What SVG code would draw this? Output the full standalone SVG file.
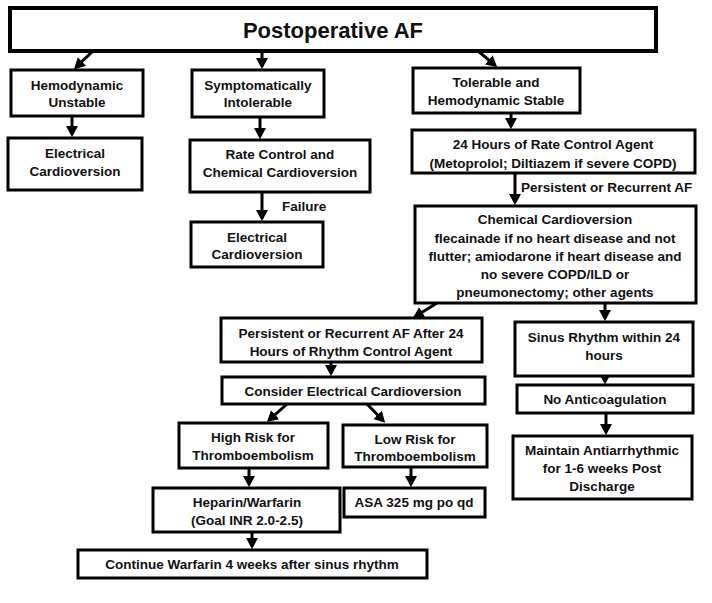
<svg xmlns="http://www.w3.org/2000/svg" width="712" height="603" viewBox="0 0 712 603">
<style>
.box{fill:#fff;stroke:#000;stroke-width:3}
.tb{stroke-width:4}
.t{font-family:"Liberation Sans",Arial,sans-serif;font-weight:bold;font-size:13.5px;fill:#111;text-anchor:middle;dominant-baseline:central}
.title{font-size:22px}
.lbl{text-anchor:start}
.c{fill:none;stroke:#000;stroke-width:3;marker-end:url(#ah)}
</style>
<defs>
<marker id="ah" viewBox="0 0 11 12" markerWidth="11" markerHeight="12" refX="8.2" refY="6" orient="auto" markerUnits="userSpaceOnUse">
<path d="M0,0 L11,6 L0,12 z" fill="#000"/>
</marker>
</defs>
<rect width="712" height="603" fill="#fff"/>
<g id="connectors">
<path class="c" d="M93,51 L76,67.2"/>
<path class="c" d="M262,51 L262,66.3"/>
<path class="c" d="M478,51 L495,65.2"/>
<path class="c" d="M72,116 L72,134.3"/>
<path class="c" d="M260,117 L260,136.3"/>
<path class="c" d="M262,192 L262,218.3"/>
<path class="c" d="M511,113 L511,126.3"/>
<path class="c" d="M515,173 L515,202.3"/>
<path class="c" d="M437,303 L415.3,316.6"/>
<path class="c" d="M605,303 L605,318.3"/>
<path class="c" d="M331,362 L331,373.3"/>
<path class="c" d="M605,376 L605,381.8"/>
<path class="c" d="M287,404 L269,420.2"/>
<path class="c" d="M367,404 L383.2,420.8"/>
<path class="c" d="M606,413 L606,432.3"/>
<path class="c" d="M249,468 L249,484.3"/>
<path class="c" d="M411,467 L411,484.3"/>
<path class="c" d="M252,532 L252,546.3"/>
<text class="t lbl" x="282" y="206">Failure</text>
<text class="t lbl" x="521" y="187">Persistent or Recurrent AF</text>
</g>
<g id="n-title"><rect class="box tb" x="10" y="8" width="646" height="43"/><text class="t title" x="333" y="30">Postoperative AF</text></g>
<g id="n-unstable"><rect class="box" x="11" y="70" width="132" height="46"/><text class="t" x="77" y="85">Hemodynamic</text><text class="t" x="77" y="102">Unstable</text></g>
<g id="n-intolerable"><rect class="box" x="192" y="70" width="132" height="47"/><text class="t" x="258" y="85">Symptomatically</text><text class="t" x="258" y="102">Intolerable</text></g>
<g id="n-tolerable"><rect class="box" x="413" y="68" width="167" height="45"/><text class="t" x="496" y="82">Tolerable and</text><text class="t" x="496" y="100">Hemodynamic Stable</text></g>
<g id="n-ecv1"><rect class="box" x="8" y="138" width="134" height="52"/><text class="t" x="75" y="153">Electrical</text><text class="t" x="75" y="171">Cardioversion</text></g>
<g id="n-ratechem"><rect class="box" x="190" y="140" width="180" height="52"/><text class="t" x="280" y="154">Rate Control and</text><text class="t" x="280" y="172">Chemical Cardioversion</text></g>
<g id="n-ecv2"><rect class="box" x="191" y="222" width="132" height="45"/><text class="t" x="257" y="237">Electrical</text><text class="t" x="257" y="254">Cardioversion</text></g>
<g id="n-rate24"><rect class="box" x="412" y="130" width="283" height="43"/><text class="t" x="553" y="144">24 Hours of Rate Control Agent</text><text class="t" x="553" y="163">(Metoprolol; Diltiazem if severe COPD)</text></g>
<g id="n-chem"><rect class="box" x="415" y="206" width="281" height="97"/><text class="t" x="555" y="219">Chemical Cardioversion</text><text class="t" x="555" y="238">flecainade if no heart disease and not</text><text class="t" x="555" y="256">flutter; amiodarone if heart disease and</text><text class="t" x="555" y="274">no severe COPD/ILD or</text><text class="t" x="555" y="292">pneumonectomy; other agents</text></g>
<g id="n-persist"><rect class="box" x="221" y="318" width="261" height="44"/><text class="t" x="351" y="333">Persistent or Recurrent AF After 24</text><text class="t" x="351" y="351">Hours of Rhythm Control Agent</text></g>
<g id="n-sinus"><rect class="box" x="515" y="322" width="178" height="54"/><text class="t" x="604" y="337">Sinus Rhythm within 24</text><text class="t" x="604" y="355">hours</text></g>
<g id="n-consider"><rect class="box" x="222" y="377" width="263" height="27"/><text class="t" x="353" y="391">Consider Electrical Cardioversion</text></g>
<g id="n-noanti"><rect class="box" x="517" y="385" width="176" height="28"/><text class="t" x="605" y="399">No Anticoagulation</text></g>
<g id="n-high"><rect class="box" x="179" y="423" width="149" height="45"/><text class="t" x="253" y="437">High Risk for</text><text class="t" x="253" y="455">Thromboembolism</text></g>
<g id="n-low"><rect class="box" x="343" y="425" width="144" height="42"/><text class="t" x="415" y="439">Low Risk for</text><text class="t" x="415" y="456">Thromboembolism</text></g>
<g id="n-maintain"><rect class="box" x="513" y="436" width="179" height="63"/><text class="t" x="602" y="450">Maintain Antiarrhythmic</text><text class="t" x="602" y="468">for 1-6 weeks Post</text><text class="t" x="602" y="486">Discharge</text></g>
<g id="n-heparin"><rect class="box" x="153" y="488" width="187" height="44"/><text class="t" x="247" y="502">Heparin/Warfarin</text><text class="t" x="247" y="520">(Goal INR 2.0-2.5)</text></g>
<g id="n-asa"><rect class="box" x="344" y="488" width="141" height="29"/><text class="t" x="414" y="502">ASA 325 mg po qd</text></g>
<g id="n-continue"><rect class="box" x="78" y="550" width="349" height="28"/><text class="t" x="252" y="564">Continue Warfarin 4 weeks after sinus rhythm</text></g>
</svg>
